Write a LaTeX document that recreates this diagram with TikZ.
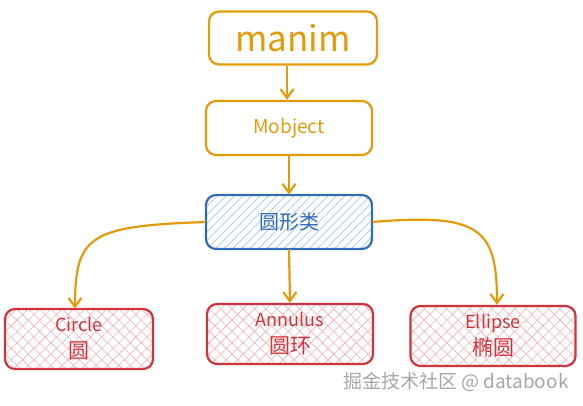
\documentclass[tikz,border=0pt]{standalone}
\usepackage{fontspec}
\setmainfont{Noto Sans CJK SC}
\usepackage{xcolor}
\usetikzlibrary{arrows.meta,patterns.meta}
\definecolor{naranja}{HTML}{E59A0B}
\definecolor{azul}{HTML}{2F6DB8}
\definecolor{celeste}{HTML}{A3C8EE}
\definecolor{rojo}{HTML}{D0343A}
\definecolor{rosa}{HTML}{F2AEB9}
\newcommand{\chino}[1]{{\fontsize{21}{27}\selectfont #1}}

\begin{document}
\begin{tikzpicture}[x=1pt,y=-1pt,
    caja/.style={draw,rounded corners=10pt,line width=2.2pt,minimum width=166pt,minimum height=54pt,align=center,inner sep=0pt},
    arriba/.style={caja,draw=naranja,text=naranja},
    clase/.style={caja,draw=azul,text=azul,pattern={Lines[angle=45,distance=6pt,line width=0.7pt]},pattern color=celeste,font=\fontsize{20}{24}\selectfont},
    hoja/.style={caja,draw=rojo,text=rojo,minimum height=60pt,pattern={Hatch[angle=45,distance=8pt,line width=0.6pt]},pattern color=rosa,font=\fontsize{18}{27}\selectfont},
    flecha/.style={draw=naranja,line width=2.2pt,->},
    >={Straight Barb[length=9pt,width=13pt]}]
  \useasboundingbox (0,0) rectangle (583,405);
  \node[arriba,minimum width=168pt,minimum height=53pt,font=\fontsize{35}{40}\selectfont] (manim) at (293,38) {manim};
  \node[arriba,font=\fontsize{19}{22}\selectfont] (mobj) at (289,128) {Mobject};
  \node[clase] (forma) at (289,222) {圆形类};
  \node[hoja,minimum width=148pt] (circ) at (79,339) {Circle\\\chino{圆}};
  \node[hoja] (anil) at (290,334) {Annulus\\\chino{圆环}};
  \node[hoja,minimum width=165pt] (elip) at (493,336) {Ellipse\\\chino{椭圆}};
  \node[text=gray!70,font=\fontsize{19}{22}\selectfont,anchor=east] (marca) at (572,382) {掘金技术社区 @ databook};
  % conexiones
  \draw[flecha] (manim.south -| 287,0) -- (mobj.north -| 287,0);
  \draw[flecha] (mobj.south) -- (forma.north);
  \draw[flecha] (forma.south) -- (anil.north);
  \draw[flecha] (forma.west) .. controls (90,226) and (75,235) .. (circ.north -| 75,0);
  \draw[flecha] (forma.east) .. controls (480,213) and (497,228) .. (elip.north -| 497,0);
\end{tikzpicture}
\end{document}
